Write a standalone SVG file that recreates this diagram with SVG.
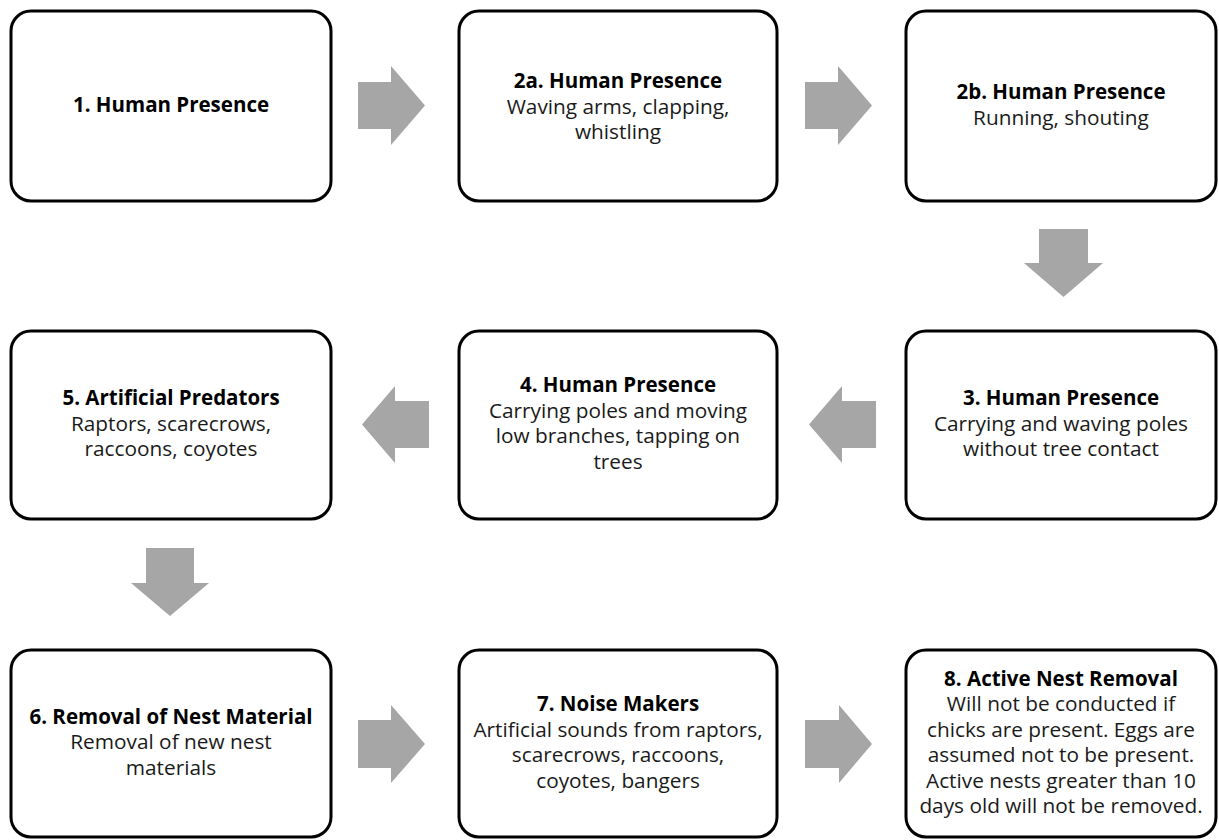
<svg xmlns="http://www.w3.org/2000/svg" width="1219" height="840" viewBox="0 0 1219 840">
<style>
.box{fill:#fff;stroke:#000;stroke-width:3}
.arr{fill:#a6a6a6}
text{font-family:"Open Sans","Liberation Sans",sans-serif;font-size:20.8px;text-anchor:middle;fill:#1a1a1a}
.t{font-weight:bold;fill:#000;font-size:20.5px}
</style>
<rect width="1219" height="840" fill="#fff"/>
<g id="connectors">
<polygon class="arr" points="358,82 391,82 391,66 425,105.5 391,145 391,129 358,129"/>
<polygon class="arr" points="805,82 838,82 838,66 872,105.5 838,145 838,129 805,129"/>
<polygon class="arr" points="1039,229 1088,229 1088,263 1103,263 1063.5,297 1024,263 1039,263"/>
<polygon class="arr" points="876,401 842,401 842,386 809,424.5 842,463 842,448 876,448"/>
<polygon class="arr" points="429,401 395,401 395,386 362,424.5 395,463 395,448 429,448"/>
<polygon class="arr" points="146,548 194,548 194,583 209,583 170,616 131,583 146,583"/>
<polygon class="arr" points="358,720 391,720 391,705 425,744 391,783 391,768 358,768"/>
<polygon class="arr" points="805,720 839,720 839,705 872,744 839,783 839,768 805,768"/>
</g>
<g id="n1">
<rect class="box" x="11" y="11" width="320" height="190" rx="20"/>
<text class="t" x="171" y="112">1. Human Presence</text>
</g>
<g id="n2a">
<rect class="box" x="459" y="11" width="318" height="190" rx="20"/>
<text class="t" x="618" y="88">2a. Human Presence</text>
<text x="618" y="113.5">Waving arms, clapping,</text>
<text x="618" y="139">whistling</text>
</g>
<g id="n2b">
<rect class="box" x="906" y="11" width="310" height="190" rx="20"/>
<text class="t" x="1061" y="99">2b. Human Presence</text>
<text x="1061" y="124.5">Running, shouting</text>
</g>
<g id="n3">
<rect class="box" x="906" y="331" width="310" height="188" rx="20"/>
<text class="t" x="1061" y="405">3. Human Presence</text>
<text x="1061" y="430.5">Carrying and waving poles</text>
<text x="1061" y="456">without tree contact</text>
</g>
<g id="n4">
<rect class="box" x="459" y="331" width="318" height="188" rx="20"/>
<text class="t" x="618" y="392">4. Human Presence</text>
<text x="618" y="417.5">Carrying poles and moving</text>
<text x="618" y="443">low branches, tapping on</text>
<text x="618" y="468.5">trees</text>
</g>
<g id="n5">
<rect class="box" x="11" y="331" width="320" height="188" rx="20"/>
<text class="t" x="171" y="405">5. Artificial Predators</text>
<text x="171" y="430.5">Raptors, scarecrows,</text>
<text x="171" y="456">raccoons, coyotes</text>
</g>
<g id="n6">
<rect class="box" x="11" y="650" width="320" height="187" rx="20"/>
<text class="t" x="171" y="723.5">6. Removal of Nest Material</text>
<text x="171" y="749">Removal of new nest</text>
<text x="171" y="774.5">materials</text>
</g>
<g id="n7">
<rect class="box" x="459" y="650" width="318" height="187" rx="20"/>
<text class="t" x="618" y="711">7. Noise Makers</text>
<text x="618" y="736.5">Artificial sounds from raptors,</text>
<text x="618" y="762">scarecrows, raccoons,</text>
<text x="618" y="787.5">coyotes, bangers</text>
</g>
<g id="n8">
<rect class="box" x="906" y="650" width="310" height="187" rx="20"/>
<text class="t" x="1061" y="685.5">8. Active Nest Removal</text>
<text x="1061" y="711">Will not be conducted if</text>
<text x="1061" y="736.5">chicks are present. Eggs are</text>
<text x="1061" y="762">assumed not to be present.</text>
<text x="1061" y="787.5">Active nests greater than 10</text>
<text x="1061" y="813">days old will not be removed.</text>
</g>
</svg>
